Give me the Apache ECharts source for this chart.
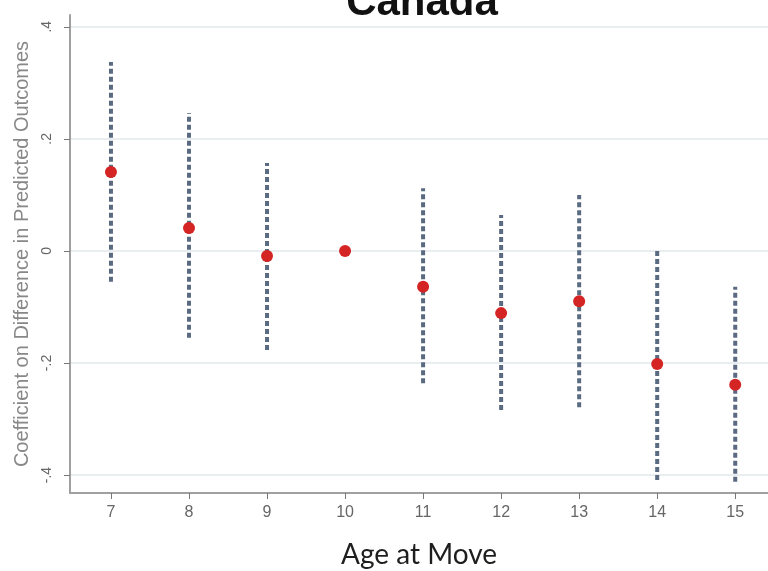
<!DOCTYPE html>
<html>
<head>
<meta charset="utf-8">
<script src="https://cdn.jsdelivr.net/npm/echarts@6/dist/echarts.min.js"></script>
<style>html,body{margin:0;padding:0;background:#fff}#c{width:768px;height:571px}</style>
</head>
<body>
<div id="c"></div>
<script>
var ages = [7, 8, 9, 10, 11, 12, 13, 14, 15];
var coef = [0.141, 0.041, -0.009, 0, -0.064, -0.111, -0.090, -0.202, -0.239];
var ciLow = [-0.055, -0.155, -0.177, null, -0.236, -0.284, -0.279, -0.409, -0.412];
var ciHigh = [0.337, 0.246, 0.157, null, 0.112, 0.064, 0.100, 0.005, -0.064];
var yTicks = [-0.4, -0.2, 0, 0.2, 0.4];
var yTickLabels = ['-.4', '-.2', '0', '.2', '.4'];

var chart = echarts.init(document.getElementById('c'));
var ciData = [];
for (var i = 0; i < ages.length; i++) {
  if (ciLow[i] !== null) ciData.push([ages[i], ciLow[i], ciHigh[i]]);
}
var pts = ages.map(function (a, i) { return [a, coef[i]]; });

chart.setOption({
  animation: false,
  title: {
    text: 'Canada', left: 417, textAlign: 'center', top: -23,
    textStyle: { fontFamily: 'Liberation Sans', fontWeight: 'bold', fontSize: 42, color: '#111' }
  },
  grid: { left: 70, right: 0, top: 15, bottom: 78, containLabel: false, outerBoundsMode: 'none' },
  xAxis: {
    type: 'value', min: 6.475, max: 15.42,
    name: 'Age at Move', nameLocation: 'middle', nameGap: 48,
    nameTextStyle: { fontFamily: 'Lato', fontSize: 28, color: '#1e1e1e' },
    axisLine: { show: true, onZero: false, lineStyle: { color: '#a0a0a0', width: 2 } },
    axisTick: { show: true, customValues: ages, length: 6, lineStyle: { color: '#777' } },
    axisLabel: { customValues: ages, fontFamily: 'Liberation Sans', fontSize: 16, color: '#666', margin: 12 },
    splitLine: { show: false }
  },
  yAxis: {
    type: 'value', min: -0.432, max: 0.421,
    name: 'Coefficient on Difference in Predicted Outcomes', nameLocation: 'middle', nameRotate: 90, nameGap: 36,
    nameTextStyle: { fontFamily: 'Liberation Sans', fontSize: 20, color: '#888' },
    axisLine: { show: true, onZero: false, lineStyle: { color: '#a0a0a0', width: 2 } },
    axisTick: { show: true, customValues: yTicks, length: 6, lineStyle: { color: '#777' } },
    axisLabel: {
      customValues: yTicks, rotate: 90, fontFamily: 'Liberation Sans', fontSize: 14, color: '#666', margin: 16,
      formatter: function (v) { var k = yTicks.indexOf(Math.round(v * 10) / 10); return k >= 0 ? yTickLabels[k] : ''; }
    },
    splitLine: { show: false }
  },
  series: [
    {
      type: 'custom',
      data: ciData,
      renderItem: function (params, api) {
        var p1 = api.coord([api.value(0), api.value(1)]);
        var p2 = api.coord([api.value(0), api.value(2)]);
        return {
          type: 'line',
          shape: { x1: p1[0], y1: p1[1], x2: p2[0], y2: p2[1] },
          style: { stroke: '#5a6b81', lineWidth: 4, lineDash: [5, 3] }
        };
      },
      markLine: {
        silent: true, symbol: 'none', label: { show: false }, z: 0,
        lineStyle: { color: '#e9eef1', width: 2, type: 'solid' },
        data: yTicks.map(function (v) { return { yAxis: v }; })
      },
      z: 2
    },
    {
      type: 'scatter',
      data: pts,
      symbolSize: 12,
      itemStyle: { color: '#d42424', opacity: 1 },
      z: 3
    }
  ]
});
</script>
</body>
</html>
